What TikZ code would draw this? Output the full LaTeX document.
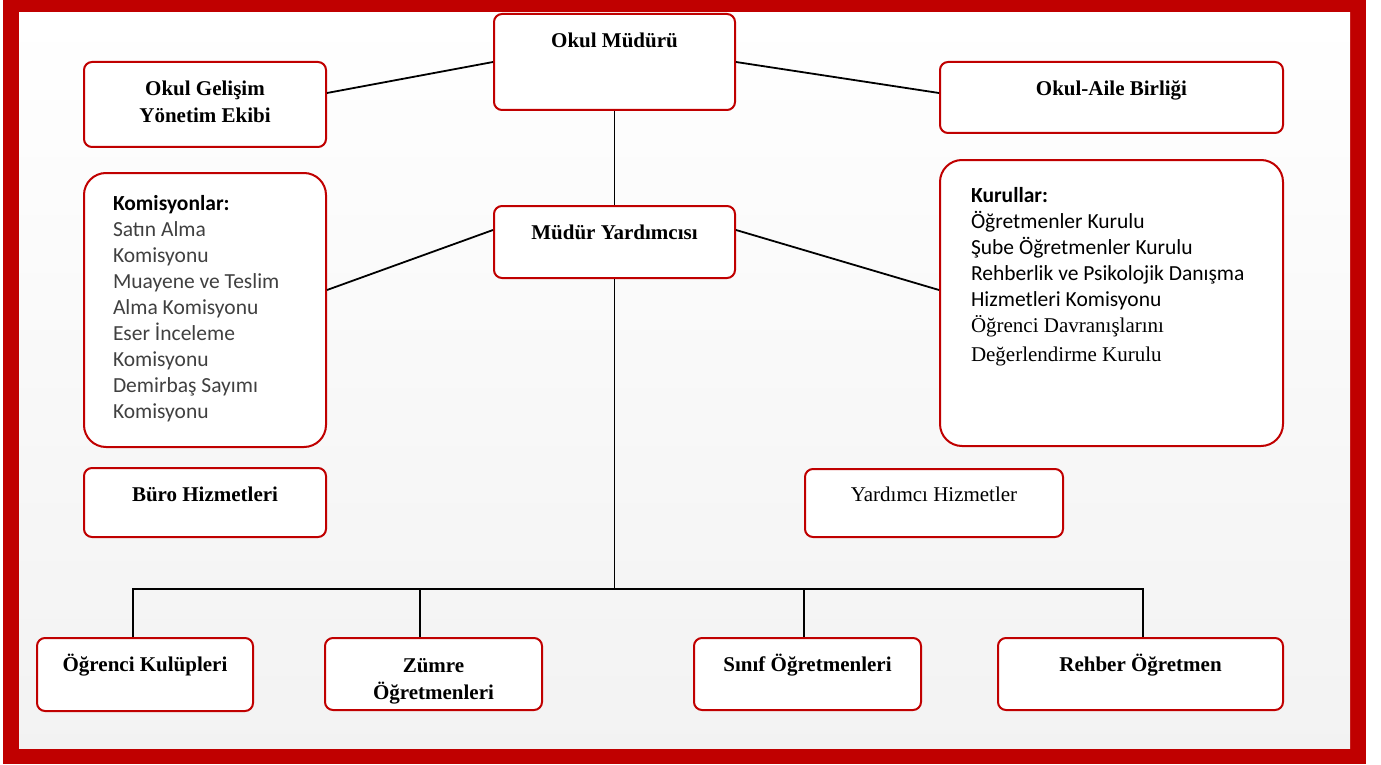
\documentclass[tikz,border=0pt]{standalone}
\usepackage{fontspec}
\setmainfont{Liberation Serif}
\newfontfamily\calibri{Carlito}
\definecolor{frame}{HTML}{C00000}
\definecolor{listgray}{HTML}{404040}
\tikzset{
  box/.style={draw=frame, line width=2pt, fill=white, rounded corners=8pt, anchor=north west,
    inner ysep=0pt, inner xsep=4pt, align=center, font=\fontsize{21}{27}\selectfont\bfseries},
  listbox/.style={box, rounded corners=22pt, align=flush left, font=\calibri\fontsize{21.5}{26}\selectfont},
  link/.style={line width=1.8pt, black},
}
\begin{document}
\begin{tikzpicture}[x=1pt, y=-1pt]
  \useasboundingbox (0,0) rectangle (1381,765);
  % frame and background
  \fill[frame] (3,0) rectangle (1366,764);
  \shade[top color=white, bottom color=gray!10] (19,13) rectangle (1350,748);

  % top level
  \node[box, minimum width=241, text height=34, text depth=62] (mudur) at (493,13) {Okul Müdürü};
  \node[box, minimum width=242, text height=61, text depth=24] (gelisim) at (83,61) {Okul Gelişim\\Yönetim Ekibi};
  \node[box, minimum width=343, text height=34, text depth=37] (aile) at (939,61) {Okul-Aile Birliği};

  % second level
  \node[box, minimum width=241, text height=33, text depth=39] (yard) at (493,205) {Müdür Yardımcısı};
  \node[listbox, text=listgray, inner xsep=29, text width=184, minimum width=242, text height=37, text depth=237] (komisyon) at (83,172)
    {{\color{black}\bfseries Komisyonlar:}\\Satın Alma\\Komisyonu\\Muayene ve Teslim\\Alma Komisyonu\\Eser İnceleme\\Komisyonu\\Demirbaş Sayımı\\Komisyonu};
  \node[listbox, inner xsep=31, text width=281, minimum width=343, text height=42, text depth=244] (kurul) at (939,159)
    {{\bfseries Kurullar:}\\Öğretmenler Kurulu\\Şube Öğretmenler Kurulu\\Rehberlik ve Psikolojik Danışma\\Hizmetleri Komisyonu\\
     {\rmfamily\fontsize{21}{26}\selectfont Öğrenci Davranışlarını}\\[3pt]{\rmfamily\fontsize{21}{26}\selectfont Değerlendirme Kurulu}};
  \node[box, minimum width=242, text height=33, text depth=36] (buro) at (83,467) {Büro Hizmetleri};
  \node[box, font=\fontsize{21}{27}\selectfont, minimum width=258, text height=32, text depth=36] (yardhiz) at (804,468) {Yardımcı Hizmetler};

  % bottom row
  \node[box, minimum width=216, text height=33, text depth=40] (kulup) at (36,637) {Öğrenci Kulüpleri};
  \node[box, minimum width=217, text height=61, text depth=11] (zumre) at (324,637) {Zümre\\Öğretmenleri};
  \node[box, minimum width=227, text height=33, text depth=39] (sinif) at (693,637) {Sınıf Öğretmenleri};
  \node[box, minimum width=285, text height=33, text depth=39] (rehber) at (997,637) {Rehber Öğretmen};

  % connectors
  \draw[link] (mudur.west) -- ([yshift=11.5pt]gelisim.east);
  \draw[link] (mudur.east) -- ([yshift=4.5pt]aile.west);
  \draw[link] (mudur.south) -- (yard.north);
  \draw[link] ([yshift=12pt]yard.west) -- ([yshift=20pt]komisyon.east);
  \draw[link] ([yshift=12pt]yard.east) -- ([yshift=13pt]kurul.east -| kurul.west);

  \coordinate (b1) at (133,589);
  \coordinate (b2) at (420,589);
  \coordinate (b3) at (804,589);
  \coordinate (b4) at (1143,589);
  \draw[link] (yard.south) -- (yard.south |- b1);
  \draw[link] (b1 |- kulup.north) -- (b1) -- (b4) -- (b4 |- rehber.north);
  \draw[link] (b2) -- (b2 |- zumre.north);
  \draw[link] (b3) -- (b3 |- sinif.north);
\end{tikzpicture}
\end{document}
